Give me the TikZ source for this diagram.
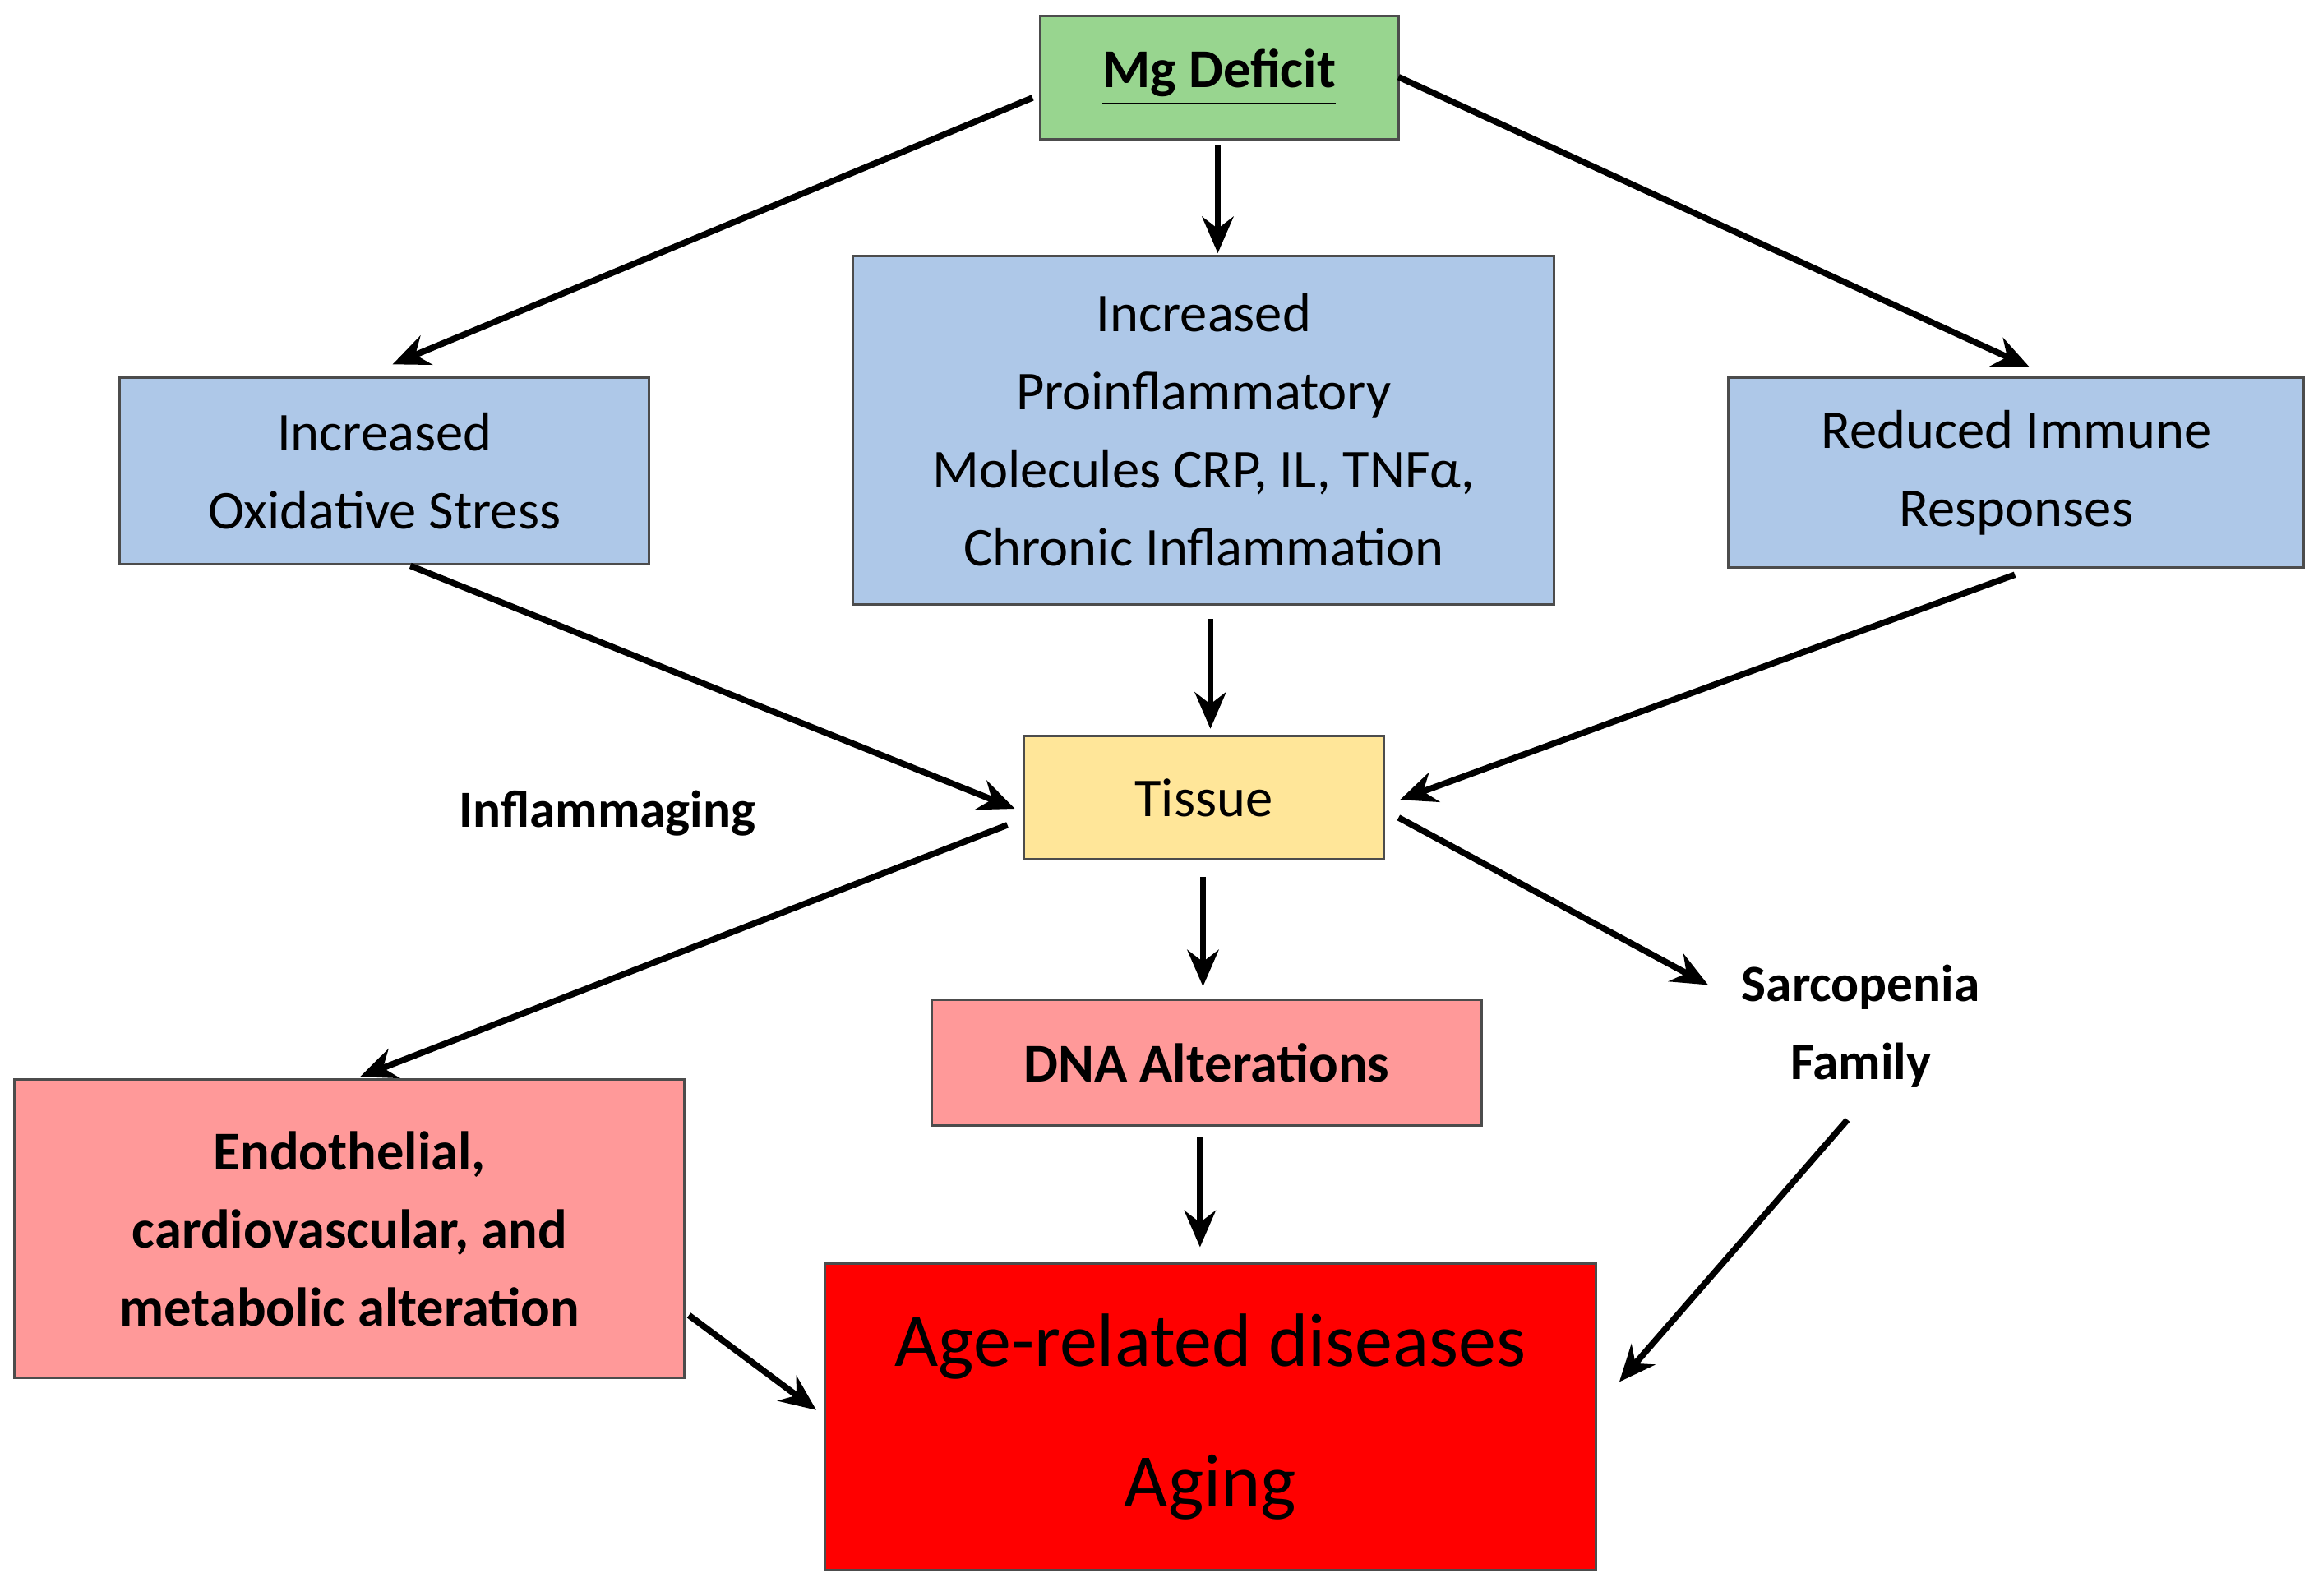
\documentclass[tikz,border=0pt]{standalone}
\usepackage{fontspec}
\setmainfont{Carlito}
\usetikzlibrary{arrows.meta}
\definecolor{cg}{HTML}{98D58F}
\definecolor{cb}{HTML}{AEC8E8}
\definecolor{cy}{HTML}{FFE699}
\definecolor{cp}{HTML}{FF9999}
\definecolor{cr}{HTML}{FF0000}
\begin{document}
\begin{tikzpicture}[x=0.01cm,y=-0.01cm,
 box/.style={draw=black!70,line width=0.5pt,inner sep=0pt,align=center,font=\fontsize{10.5}{15}\selectfont},
 lbl/.style={font=\bfseries\fontsize{10}{15}\selectfont,align=center},
 arr/.style={-{Stealth[length=7pt,width=6pt]},line width=1.2pt}]
\useasboundingbox (0,0) rectangle (1568,1077);
\node[box,fill=cg,minimum width=2.42cm,minimum height=0.83cm,font=\bfseries\fontsize{10.5}{15}\selectfont] (mg) at (823,52.5) {\underline{Mg Deficit}};
\node[box,fill=cb,minimum width=3.57cm,minimum height=1.26cm] (ox) at (259.5,318) {Increased\\Oxidative Stress};
\node[box,fill=cb,minimum width=4.73cm,minimum height=2.35cm] (pro) at (812.5,290.5) {Increased\\Proinflammatory\\Molecules CRP, IL, TNFα,\\Chronic Inflammation};
\node[box,fill=cb,minimum width=3.88cm,minimum height=1.28cm] (im) at (1361,319) {Reduced Immune\\Responses};
\node[box,fill=cy,minimum width=2.43cm,minimum height=0.83cm] (ti) at (812.5,538.5) {Tissue};
\node[box,fill=cp,minimum width=3.71cm,minimum height=0.85cm,font=\bfseries\fontsize{10.5}{15}\selectfont] (dna) at (814.5,717.5) {DNA Alterations};
\node[box,fill=cp,minimum width=4.52cm,minimum height=2.01cm,font=\bfseries\fontsize{10.5}{15}\selectfont] (en) at (236,829.5) {Endothelial,\\cardiovascular, and\\metabolic alteration};
\node[box,fill=cr,minimum width=5.2cm,minimum height=2.07cm,font=\fontsize{14.5}{27}\selectfont] (age) at (817,956.5) {Age-related diseases\\Aging};
\node[lbl] (inf) at (410,549) {Inflammaging};
\node[lbl] (sar) at (1256,693) {Sarcopenia\\Family};
\coordinate (m1) at (697,66); \coordinate (m2) at (822,98); \coordinate (m3) at (944,52);
\coordinate (o1) at (265,246); \coordinate (p1) at (822,171); \coordinate (i1) at (1370,248);
\coordinate (o2) at (277,382); \coordinate (t1) at (685,546);
\coordinate (p2) at (817,418); \coordinate (t2) at (817,492);
\coordinate (i2) at (1360,388); \coordinate (t3) at (945,540);
\coordinate (t4) at (680,557); \coordinate (e1) at (243,727);
\coordinate (t5) at (812,592); \coordinate (d1) at (812,666);
\coordinate (t6) at (944,552); \coordinate (s1) at (1153,665);
\coordinate (d2) at (810,768); \coordinate (a1) at (810,842);
\coordinate (e2) at (465,888); \coordinate (a2) at (551,952);
\coordinate (s2) at (1247,756); \coordinate (a3) at (1093,933);
\draw[arr] (m1) -- (o1);
\draw[arr] (m2) -- (p1);
\draw[arr] (m3) -- (i1);
\draw[arr] (o2) -- (t1);
\draw[arr] (p2) -- (t2);
\draw[arr] (i2) -- (t3);
\draw[arr] (t4) -- (e1);
\draw[arr] (t5) -- (d1);
\draw[arr] (t6) -- (s1);
\draw[arr] (d2) -- (a1);
\draw[arr] (e2) -- (a2);
\draw[arr] (s2) -- (a3);
\end{tikzpicture}
\end{document}
